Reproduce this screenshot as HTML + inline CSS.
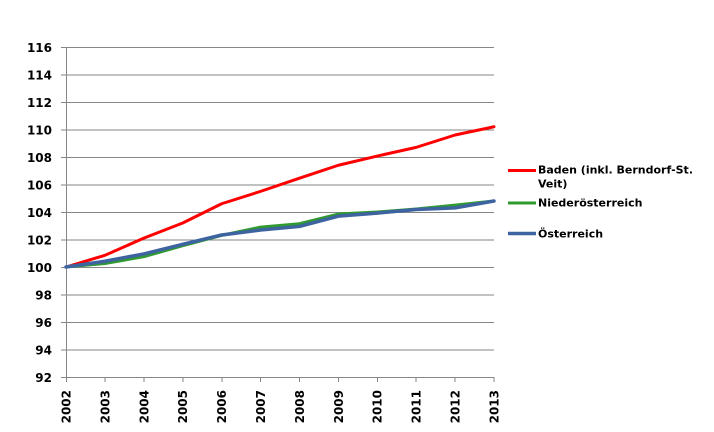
<!DOCTYPE html>
<html><head><meta charset="utf-8"><style>
html,body{margin:0;padding:0;background:#fff;}
svg{display:block;}
text{font-family:"DejaVu Sans","Liberation Sans",sans-serif;font-weight:bold;fill:#000;}
</style></head><body>
<svg width="714" height="432" viewBox="0 0 714 432" xmlns="http://www.w3.org/2000/svg">
<g stroke="#868686" stroke-width="1" shape-rendering="crispEdges">
<line x1="61" y1="47.5" x2="494" y2="47.5"/>
<line x1="61" y1="75" x2="494" y2="75"/>
<line x1="61" y1="102.5" x2="494" y2="102.5"/>
<line x1="61" y1="130" x2="494" y2="130"/>
<line x1="61" y1="157.5" x2="494" y2="157.5"/>
<line x1="61" y1="185" x2="494" y2="185"/>
<line x1="61" y1="212.5" x2="494" y2="212.5"/>
<line x1="61" y1="240" x2="494" y2="240"/>
<line x1="61" y1="267.5" x2="494" y2="267.5"/>
<line x1="61" y1="295" x2="494" y2="295"/>
<line x1="61" y1="322.5" x2="494" y2="322.5"/>
<line x1="61" y1="350" x2="494" y2="350"/>
<line x1="61" y1="377.5" x2="494" y2="377.5"/>
<line x1="66.5" y1="47" x2="66.5" y2="382"/>
<line x1="105" y1="377" x2="105" y2="382"/>
<line x1="144" y1="377" x2="144" y2="382"/>
<line x1="183" y1="377" x2="183" y2="382"/>
<line x1="222" y1="377" x2="222" y2="382"/>
<line x1="260.5" y1="377" x2="260.5" y2="382"/>
<line x1="299.5" y1="377" x2="299.5" y2="382"/>
<line x1="338.5" y1="377" x2="338.5" y2="382"/>
<line x1="377.5" y1="377" x2="377.5" y2="382"/>
<line x1="416" y1="377" x2="416" y2="382"/>
<line x1="455" y1="377" x2="455" y2="382"/>
<line x1="494" y1="377" x2="494" y2="382"/>
</g>
<g font-size="12" text-anchor="end">
<text x="52" y="52">116</text>
<text x="52" y="79.5">114</text>
<text x="52" y="107">112</text>
<text x="52" y="134.5">110</text>
<text x="52" y="162">108</text>
<text x="52" y="189.5">106</text>
<text x="52" y="217">104</text>
<text x="52" y="244.5">102</text>
<text x="52" y="272">100</text>
<text x="52" y="299.5">98</text>
<text x="52" y="327">96</text>
<text x="52" y="354.5">94</text>
<text x="52" y="382">92</text>
</g>
<g font-size="12" text-anchor="end">
<text transform="translate(70.5,390) rotate(-90)">2002</text>
<text transform="translate(109.4,390) rotate(-90)">2003</text>
<text transform="translate(148.3,390) rotate(-90)">2004</text>
<text transform="translate(187.2,390) rotate(-90)">2005</text>
<text transform="translate(226.1,390) rotate(-90)">2006</text>
<text transform="translate(265,390) rotate(-90)">2007</text>
<text transform="translate(303.9,390) rotate(-90)">2008</text>
<text transform="translate(342.8,390) rotate(-90)">2009</text>
<text transform="translate(381.7,390) rotate(-90)">2010</text>
<text transform="translate(420.6,390) rotate(-90)">2011</text>
<text transform="translate(459.5,390) rotate(-90)">2012</text>
<text transform="translate(498.4,390) rotate(-90)">2013</text>
</g>
<g fill="none" stroke-linejoin="round" stroke-linecap="round">
<polyline stroke="#ff0000" stroke-width="3" points="66,267 104.91,255.31 143.82,238.13 182.73,223 221.64,203.75 260.55,191.38 299.45,178.19 338.36,165.25 377.27,156.04 416.18,147.38 455.09,135 494,126.75"/>
<polyline stroke="#2f9a2f" stroke-width="3" points="66,267 104.91,263.56 143.82,256.69 182.73,245.69 221.64,235.38 260.55,227.13 299.45,223.69 338.36,214.06 377.27,212 416.18,208.98 455.09,205.13 494,201"/>
<polyline stroke="#3d64a0" stroke-width="3.5" points="66,267 104.91,261.23 143.82,253.94 182.73,244.31 221.64,234.96 260.55,230.01 299.45,226.44 338.36,216.13 377.27,213.1 416.18,209.5 455.09,207.85 494,201"/>
</g>
<line x1="508" y1="170.5" x2="536" y2="170.5" stroke="#ff0000" stroke-width="3"/>
<line x1="508" y1="203" x2="536" y2="203" stroke="#2f9a2f" stroke-width="3"/>
<line x1="508" y1="233.5" x2="536" y2="233.5" stroke="#3d64a0" stroke-width="3.5"/>
<g font-size="11">
<text x="538" y="173.5">Baden (inkl. Berndorf-St.</text>
<text x="538" y="187.5">Veit)</text>
<text x="538" y="206.5">Niederösterreich</text>
<text x="538" y="237.5">Österreich</text>
</g>
</svg>
</body></html>
